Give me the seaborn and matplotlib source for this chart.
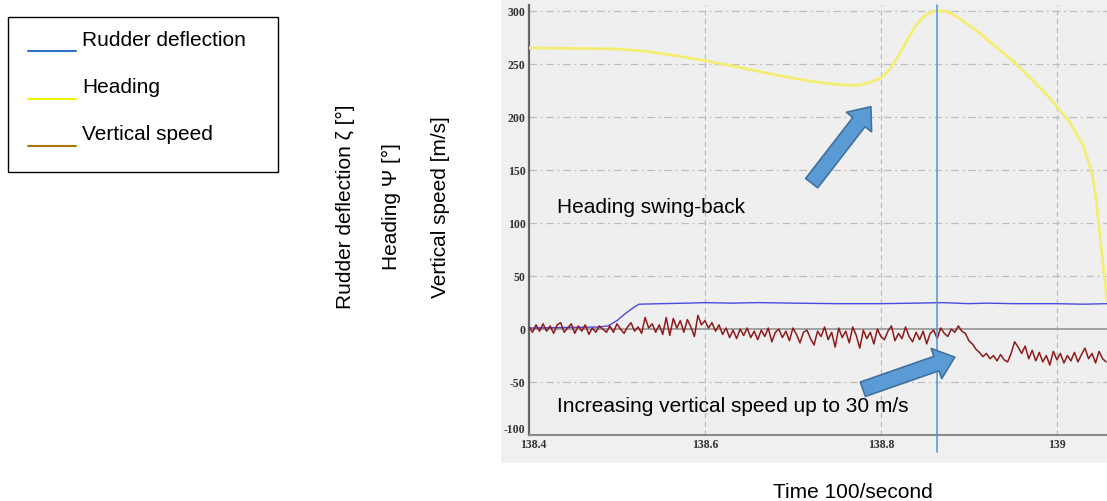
import numpy as np
import matplotlib
matplotlib.use("Agg")
import matplotlib.pyplot as plt
import matplotlib.transforms as mtransforms
from matplotlib.patches import Rectangle
from matplotlib.lines import Line2D
import seaborn as sns

# ---------------- data ----------------
heading_t = [138.40, 138.45, 138.50, 138.53, 138.56, 138.60, 138.64, 138.68, 138.72,
             138.75, 138.77, 138.785, 138.80, 138.81, 138.82, 138.83, 138.84, 138.85,
             138.86, 138.875, 138.89, 138.91, 138.93, 138.95, 138.97, 138.99, 139.00,
             139.015, 139.03, 139.04, 139.045, 139.05, 139.057]
heading_v = [265.5, 265, 264.5, 262.5, 259, 253.5, 247, 240, 234,
             231, 230, 232, 237, 245, 258, 273, 287, 296,
             300.5, 300, 293, 281, 267, 253, 237, 220, 210,
             195, 173, 147, 120, 80, 27]

rudder_t = [138.40, 138.44, 138.48, 138.49, 138.50, 138.51, 138.52, 138.525, 138.55,
            138.58, 138.60, 138.63, 138.66, 138.70, 138.75, 138.80, 138.84, 138.87,
            138.90, 138.92, 138.95, 138.98, 139.00, 139.03, 139.057]
rudder_v = [1, 1.5, 2, 3, 8, 15, 21, 23.5, 24,
            24.5, 25, 24.5, 25, 24.5, 24, 24, 24.5, 25,
            24, 24.5, 24, 24, 24, 23.5, 24]

vs_t0 = 138.400
vs_dt = 0.004
vspeed_v = [
    # 138.400 - 138.488
    2, -3, 4, -2, 5, -2, 3, -4, 4, 6, -3, 1, 5, -4, 3, -2, 4, -5, 1, -3, 3, 0, -3,
    # 138.492 - 138.596
    3, -3, 5, 0, -4, 2, 6, -2, 2, -4, 11, 1, 5, -3, 4, -5, 11, -6, 10, 1, 8, -3, 9, 2, -7, 13, 4,
    # 138.600 - 138.856
    8, 1, 6, -2, 4, -5, 1, -8, -1, -9, 0, -6, 1, -8, -2, -10, -1, -7, 1, -12,
    -3, 0, -8, -2, -11, 1, -5, -13, -3, -1, -9, -15, -2, -7, 2, -10, -3, -17, 1, -8,
    -2, -13, 2, -6, -18, -1, -9, -3, -14, 0, -7, -10, -2, 3, -11, -4, -9, 2, -7, -12,
    -3, -10, -2, -14, -4,
    # 138.860 - 138.892
    -1, -9, 1, -4, -7, 0, -3, 3, -2,
    # 138.896 - 138.924
    -4, -11, -14, -19, -22, -26, -23, -28,
    # 138.928 - 139.056
    -25, -30, -24, -29, -31, -23, -12, -17, -23, -16, -28, -20, -30, -22, -31, -25,
    -34, -21, -29, -23, -32, -25, -30, -22, -31, -24, -18, -28, -23, -32, -21, -28, -31,
]
vspeed_t = vs_t0 + vs_dt * np.arange(len(vspeed_v))

marker_time = 138.864

x_ticks = [138.4, 138.6, 138.8, 139.0]
x_ticklabels = ["138.4", "138.6", "138.8", "139"]
y_ticks = [-100, -50, 0, 50, 100, 150, 200, 250, 300]
y_ticklabels = ["-100", "-50", "0", "50", "100", "150", "200", "250", "300"]

legend_labels = ["Rudder deflection", "Heading", "Vertical speed"]
legend_colors = ["#2f74c8", "#f2f200", "#a8780c"]
ylabels = ["Rudder deflection ζ [°]", "Heading Ψ [°]", "Vertical speed [m/s]"]

# ---------------- figure ----------------
sns.set_style("white")
plt.rcParams['font.family'] = ['Liberation Sans', 'DejaVu Sans']
plt.rcParams['text.color'] = 'black'

W, H = 1107, 501
fig = plt.figure(figsize=(W / 100, H / 100), dpi=100)

def fx(px):
    return px / W

def fy(py):
    return 1 - py / H

# grey screenshot panel
fig.add_artist(Rectangle((fx(501), fy(463)), fx(W - 501), 463 / H,
                         transform=fig.transFigure, facecolor="#f0f0f0",
                         edgecolor="none", zorder=0))

ax_left, ax_right, ax_top, ax_bottom = 529, 1107, 5, 435
ax = fig.add_axes([fx(ax_left), fy(ax_bottom), fx(ax_right - ax_left),
                   (ax_bottom - ax_top) / H])
ax.set_facecolor("#efefef")

sns.lineplot(x=heading_t, y=heading_v, ax=ax, color="#f3ee72", lw=2.0, zorder=3)
sns.lineplot(x=rudder_t, y=rudder_v, ax=ax, color="#4a4ae0", lw=1.0, zorder=4)
sns.lineplot(x=vspeed_t, y=vspeed_v, ax=ax, color="#8e1b1b", lw=1.1, zorder=5)

ax.set_xlim(138.4, 139.057)
ax.set_ylim(-100, 306)

# grid
for yv in y_ticks:
    if yv == 0:
        ax.axhline(yv, color="#9a9a9a", lw=1.3, zorder=2)
    elif yv > -100:
        ax.axhline(yv, color="#bdbdbd", lw=0.9, ls=(0, (6, 3, 1.5, 3)), zorder=1)
for xv in x_ticks[1:]:
    ax.axvline(xv, color="#bdbdbd", lw=0.9, ls=(0, (4, 3)), zorder=1)

# marker line (extends below axes)
ax.plot([marker_time, marker_time], [-116, 306], color="#4f94d8", lw=1.1,
        clip_on=False, zorder=6)

ax.set_xticks(x_ticks)
ax.set_xticklabels(x_ticklabels)
ax.set_yticks(y_ticks)
ax.set_yticklabels(y_ticklabels)
for lab in ax.get_xticklabels() + ax.get_yticklabels():
    lab.set_fontfamily("Liberation Serif")
    lab.set_fontweight("bold")
    lab.set_fontsize(8.5)
    lab.set_color("#333333")
ax.tick_params(axis="y", direction="inout", length=5, width=1, color="#555555", pad=0)
ax.tick_params(axis="x", direction="inout", length=6, width=1, color="#777777", pad=0)

# nudge the bottom y label up and the first x label right so they only touch
shift_up = mtransforms.ScaledTranslation(0, 5 / 72, fig.dpi_scale_trans)
ylab0 = ax.get_yticklabels()[0]
ylab0.set_transform(ylab0.get_transform() + shift_up)
shift_right = mtransforms.ScaledTranslation(3 / 72, 0, fig.dpi_scale_trans)
xlab0 = ax.get_xticklabels()[0]
xlab0.set_transform(xlab0.get_transform() + shift_right)

for s in ["top", "right"]:
    ax.spines[s].set_visible(False)
ax.spines["left"].set_color("#666666")
ax.spines["left"].set_linewidth(1.6)
ax.spines["bottom"].set_color("#8a8a8a")
ax.spines["bottom"].set_linewidth(1.5)
ax.set_xlabel("")
ax.set_ylabel("")

# annotations
ax.text(138.4318, 114.5, "Heading swing-back", fontsize=15, va="center", ha="left",
        color="black", zorder=7)
ax.text(138.4318, -72.8, "Increasing vertical speed up to 30 m/s", fontsize=15,
        va="center", ha="left", color="black", zorder=7)

arrow_kw = dict(arrowstyle="simple,head_length=14,head_width=23,tail_width=11",
                mutation_scale=1, fc="#5b9bd5", ec="#41719c", lw=1.2, shrinkA=0, shrinkB=0)
ax.annotate("", xy=(138.7886, 210), xytext=(138.7213, 137.8),
            arrowprops=arrow_kw, zorder=8)
ax.annotate("", xy=(138.884, -26.5), xytext=(138.7795, -56.8),
            arrowprops=arrow_kw, zorder=8)

# rotated axis titles
for xp, txt in zip([345, 391, 440], ylabels):
    fig.text(fx(xp), fy(207), txt, rotation=90, fontsize=15, ha="center", va="center",
             color="black")

fig.text(fx(853), fy(492), "Time 100/second", fontsize=15, ha="center", va="center",
         color="black")

# legend box
fig.add_artist(Rectangle((fx(8), fy(172)), fx(270), 155 / H, transform=fig.transFigure,
                         facecolor="white", edgecolor="black", lw=1.0, zorder=1))
for i, (lab, col) in enumerate(zip(legend_labels, legend_colors)):
    yline = 51 + 47.5 * i
    fig.add_artist(Line2D([fx(28), fx(76)], [fy(yline), fy(yline)],
                          transform=fig.transFigure, color=col, lw=1.5, zorder=2))
    fig.text(fx(82), fy(yline - 11), lab, fontsize=15, ha="left", va="center", zorder=3,
             color="black")

fig.savefig("out.png", dpi=100)
